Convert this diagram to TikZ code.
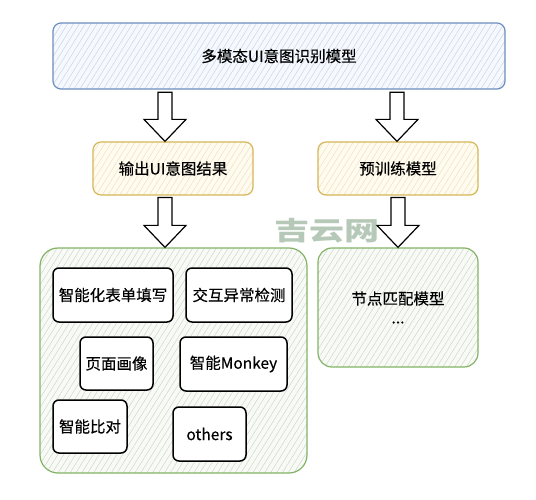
\documentclass[tikz,border=0pt]{standalone}
\usepackage{fontspec}
\setmainfont{Noto Sans CJK SC}
\newfontfamily\boxfont[FakeBold=0.3]{Noto Sans CJK SC}
\usetikzlibrary{calc,patterns.meta}

\definecolor{blueline}{HTML}{6C8EBF}
\definecolor{bluefill}{HTML}{F5F8FD}
\definecolor{bluehatch}{HTML}{C6D3E8}
\definecolor{yellowline}{HTML}{D6B656}
\definecolor{yellowfill}{HTML}{FFFBEF}
\definecolor{yellowhatch}{HTML}{EADFBE}
\definecolor{greenline}{HTML}{82B366}
\definecolor{greenfill}{HTML}{F8FAF6}
\definecolor{greenhatch}{HTML}{CDD4C9}
\definecolor{wmgreen}{HTML}{B6C9B8}

\tikzset{
  box/.style={rounded corners=8pt, line width=1.2pt, inner sep=0pt,
    font=\boxfont\fontsize{15.5}{19}\selectfont, align=center},
  hatch/.style={pattern={Lines[angle=58,distance=5pt,line width=0.45pt]}, pattern color=#1},
  bluebox/.style={box, draw=blueline, preaction={fill=bluefill}, hatch=bluehatch},
  yellowbox/.style={box, draw=yellowline, preaction={fill=yellowfill}, hatch=yellowhatch,
    minimum width=160pt, minimum height=53pt},
  greenbox/.style={box, draw=greenline, preaction={fill=greenfill}, hatch=greenhatch},
  appbox/.style={box, draw=black, fill=white, line width=1.5pt, rounded corners=6pt},
  fatarrow/.style={draw=black, fill=white, line width=1.2pt, line join=miter},
  watermark/.style={text=wmgreen, xscale=1.35, font=\normalfont\bfseries\fontsize{26}{26}\selectfont}
}

\newcommand{\blockarrow}[2]{%
  \draw[fatarrow] ($(#1)+(-7,0)$) -- ($(#2)+(-7,-22)$) -- ($(#2)+(-21,-22)$) -- (#2)
    -- ($(#2)+(21,-22)$) -- ($(#2)+(7,-22)$) -- ($(#1)+(7,0)$) -- cycle;}

\begin{document}
\begin{tikzpicture}[x=1pt,y=-1pt]
\useasboundingbox (0,0) rectangle (536,500);
% top model
\node[bluebox, minimum width=452pt, minimum height=66pt] (model) at (279,56) {多模态UI意图识别模型};
% second row
\node[yellowbox] (result) at (173,168.5) {输出UI意图结果};
\node[yellowbox] (pretrain) at (398,168.5) {预训练模型};
% lower groups
\node[greenbox, rounded corners=18pt, minimum width=267pt, minimum height=225pt] (apps) at (173.5,360.5) {};
\node[greenbox, rounded corners=14pt, minimum width=160pt, minimum height=119pt] (match) at (398,307.5) {节点匹配模型\\...};
% applications
\node[appbox, minimum width=120pt, minimum height=54pt] (form) at (113,295) {智能化表单填写};
\node[appbox, minimum width=106pt, minimum height=54pt] (anomaly) at (239,295) {交互异常检测};
\node[appbox, minimum width=73pt, minimum height=53pt] (portrait) at (116.5,363.5) {页面画像};
\node[appbox, minimum width=107pt, minimum height=54pt] (monkey) at (233.5,364) {智能Monkey};
\node[appbox, minimum width=74pt, minimum height=53pt] (compare) at (90,426.5) {智能比对};
\node[appbox, minimum width=73pt, minimum height=54pt] (others) at (209.5,434) {others};
% watermark
\node[watermark] (wm) at (327,231) {吉云网};
% arrows
\coordinate (a1s) at ($(model.south -| result.north)+(-8,3)$);
\coordinate (a1e) at ($(result.north)+(-8,0)$);
\coordinate (a2s) at ($(model.south -| pretrain.north)+(-1,3)$);
\coordinate (a2e) at ($(pretrain.north)+(-1,0)$);
\coordinate (a3s) at ($(result.south)+(-8,2)$);
\coordinate (a3e) at (a3s |- apps.north);
\coordinate (a4s) at ($(pretrain.south)+(0,2)$);
\coordinate (a4e) at (a4s |- match.north);
\blockarrow{a1s}{a1e}
\blockarrow{a2s}{a2e}
\blockarrow{a3s}{a3e}
\blockarrow{a4s}{a4e}
\end{tikzpicture}
\end{document}
